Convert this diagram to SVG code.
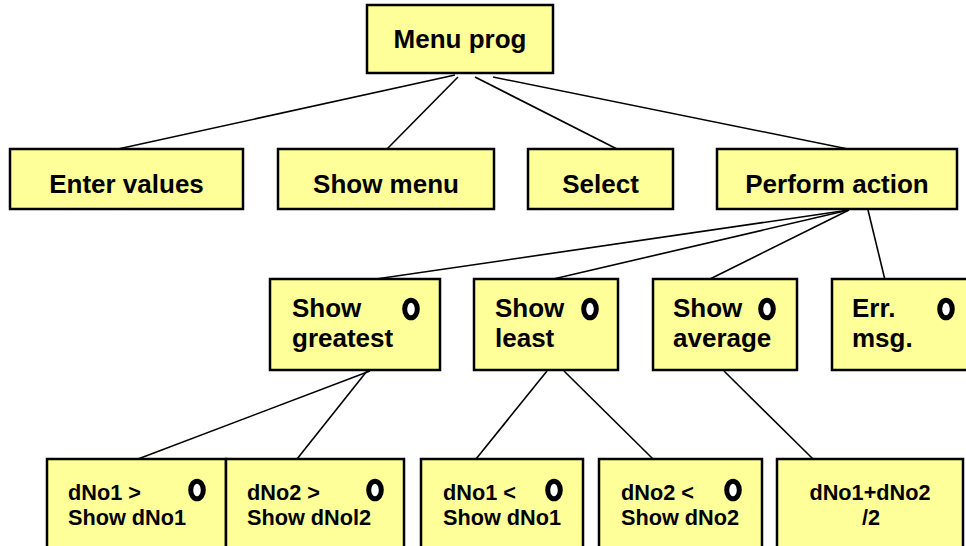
<svg xmlns="http://www.w3.org/2000/svg" width="966" height="546" viewBox="0 0 966 546">
<style>
.box{fill:#FFFF99;stroke:#000;stroke-width:2.5}
.t{font-family:"Liberation Sans",Arial,sans-serif;font-weight:bold;fill:#000}
.big{font-size:26px}
.mid{font-size:26px}
.sm{font-size:21.7px}
.c{text-anchor:middle}
.sel{fill:#fff;stroke:#000;stroke-width:5}
.con line{stroke:#000;stroke-width:1.6}
</style>
<rect width="966" height="546" fill="#fff"/>
<g class="con" id="connectors">
<line x1="455" y1="75" x2="118" y2="149"/>
<line x1="458" y1="77" x2="387" y2="149"/>
<line x1="475" y1="77" x2="617" y2="149"/>
<line x1="493" y1="77" x2="848" y2="149"/>
<line x1="849" y1="210" x2="369" y2="280"/>
<line x1="849" y1="210" x2="549" y2="280"/>
<line x1="849" y1="210" x2="708" y2="280"/>
<line x1="868" y1="210" x2="885" y2="280"/>
<line x1="370" y1="371" x2="138" y2="459"/>
<line x1="367" y1="371" x2="297" y2="459"/>
<line x1="547" y1="371" x2="476" y2="459"/>
<line x1="564" y1="371" x2="653" y2="459"/>
<line x1="724" y1="371" x2="813" y2="459"/>
</g>
<g id="menu-prog"><rect class="box" x="367" y="5" width="186" height="68"/><text class="t big c" x="460" y="48">Menu prog</text></g>
<g id="enter-values"><rect class="box" x="10" y="149" width="233" height="60"/><text class="t big c" x="126.5" y="193">Enter values</text></g>
<g id="show-menu"><rect class="box" x="278" y="149" width="216" height="60"/><text class="t big c" x="386" y="193">Show menu</text></g>
<g id="select"><rect class="box" x="528" y="149" width="145" height="60"/><text class="t big c" x="600.5" y="193">Select</text></g>
<g id="perform-action"><rect class="box" x="717" y="149" width="240" height="60"/><text class="t big c" x="837" y="193">Perform action</text></g>
<g id="show-greatest"><rect class="box" x="270" y="279" width="170" height="91"/><text class="t mid" x="292" y="317">Show</text><text class="t mid" x="292" y="347">greatest</text><ellipse class="sel" cx="411" cy="309" rx="6.3" ry="8.8"/></g>
<g id="show-least"><rect class="box" x="474" y="279" width="144" height="91"/><text class="t mid" x="495" y="317">Show</text><text class="t mid" x="495" y="347">least</text><ellipse class="sel" cx="590" cy="309" rx="6.3" ry="8.8"/></g>
<g id="show-average"><rect class="box" x="653" y="279" width="144" height="91"/><text class="t mid" x="673" y="317">Show</text><text class="t mid" x="673" y="347">average</text><ellipse class="sel" cx="767" cy="309" rx="6.3" ry="8.8"/></g>
<g id="err-msg"><rect class="box" x="832" y="279" width="140" height="91"/><text class="t mid" x="852" y="317">Err.</text><text class="t mid" x="852" y="347">msg.</text><ellipse class="sel" cx="946" cy="309" rx="6.3" ry="8.8"/></g>
<g id="greater1"><rect class="box" x="47" y="459" width="179" height="95"/><text class="t sm" x="68" y="500">dNo1 &gt;</text><text class="t sm" x="68" y="525">Show dNo1</text><ellipse class="sel" cx="197" cy="490" rx="6.3" ry="8.8"/></g>
<g id="greater2"><rect class="box" x="226" y="459" width="178" height="95"/><text class="t sm" x="247" y="500">dNo2 &gt;</text><text class="t sm" x="247" y="525">Show dNol2</text><ellipse class="sel" cx="375" cy="490" rx="6.3" ry="8.8"/></g>
<g id="less1"><rect class="box" x="421" y="459" width="162" height="95"/><text class="t sm" x="443" y="500">dNo1 &lt;</text><text class="t sm" x="443" y="525">Show dNo1</text><ellipse class="sel" cx="554" cy="490" rx="6.3" ry="8.8"/></g>
<g id="less2"><rect class="box" x="599" y="459" width="163" height="95"/><text class="t sm" x="621" y="500">dNo2 &lt;</text><text class="t sm" x="621" y="525">Show dNo2</text><ellipse class="sel" cx="733" cy="490" rx="6.3" ry="8.8"/></g>
<g id="average-calc"><rect class="box" x="777" y="459" width="186" height="95"/><text class="t sm c" x="870" y="500">dNo1+dNo2</text><text class="t sm c" x="871" y="525">/2</text></g>
</svg>
